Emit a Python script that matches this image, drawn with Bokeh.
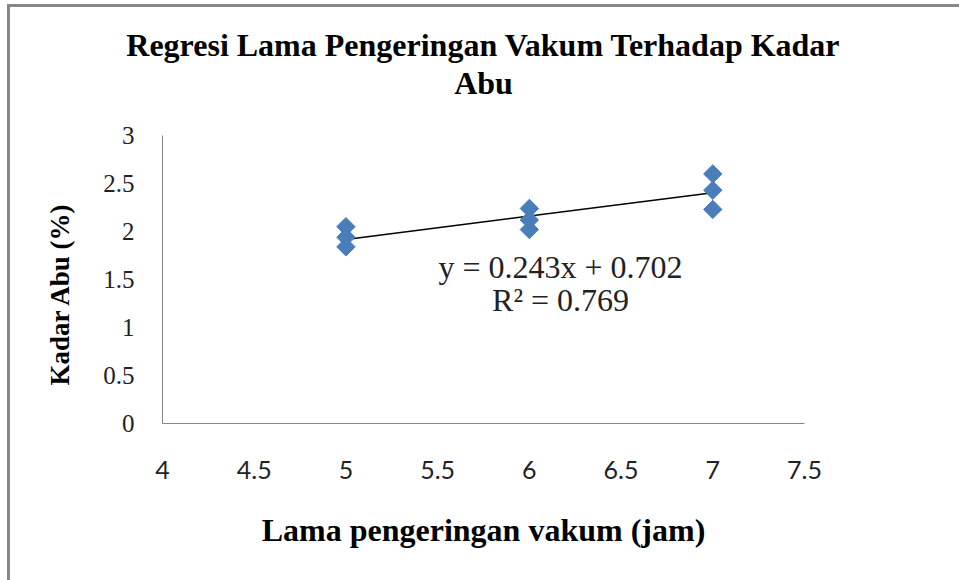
from bokeh.plotting import figure
from bokeh.models import Range1d, FixedTicker, Label, Title
from bokeh.embed import file_html
from bokeh.resources import INLINE

# Drying time (hours) and measured ash content (%) per replicate
hours = [5, 5, 5, 6, 6, 6, 7, 7, 7]
ash = [2.05, 1.94, 1.84, 2.24, 2.12, 2.02, 2.60, 2.43, 2.23]

# Linear trend reported for the data
slope = 0.243
intercept = 0.702
r_squared = 0.769

x_ticks = [4, 4.5, 5, 5.5, 6, 6.5, 7, 7.5]
x_tick_labels = ["4", "4.5", "5", "5.5", "6", "6.5", "7", "7.5"]
y_ticks = [0, 0.5, 1, 1.5, 2, 2.5, 3]
y_tick_labels = ["0", "0.5", "1", "1.5", "2", "2.5", "3"]

title_lines = ["Regresi Lama Pengeringan Vakum Terhadap Kadar", "Abu"]
x_title = "Lama pengeringan vakum (jam)"
y_title = "Kadar Abu (%)"

SERIF = "Liberation Serif"

p = figure(
    frame_width=642, frame_height=288,
    min_border_left=152, min_border_right=155,
    min_border_top=128, min_border_bottom=157,
    x_range=Range1d(4, 7.5), y_range=Range1d(0, 3),
    output_backend="svg", toolbar_location=None,
)
p.margin = (4, 0, 0, 7)
p.styles = {"border-top": "3px solid #878787", "border-left": "3px solid #878787"}
p.outline_line_color = None
p.background_fill_color = "white"
p.border_fill_color = "white"
p.grid.visible = False

# Chart title, one Title per line; a blank Title keeps a gap above the frame
title_style = dict(align="center", text_font=SERIF, text_font_style="bold",
                   text_font_size="32px", text_color="black")
p.title.visible = False
p.add_layout(Title(text=" ", standoff=32, text_font_size="1px"), "above")
p.add_layout(Title(text=title_lines[1], standoff=0, **title_style), "above")
p.add_layout(Title(text=title_lines[0], standoff=0, **title_style), "above")

# Axes
xa = p.xaxis[0]
xa.ticker = FixedTicker(ticks=x_ticks)
xa.major_label_overrides = {t: s for t, s in zip(x_ticks, x_tick_labels)}
xa.major_label_text_font = "Lato"
xa.major_label_text_font_size = "25px"
xa.major_label_text_color = "#222222"
xa.major_label_standoff = 37
xa.axis_label = x_title
xa.axis_label_text_font = SERIF
xa.axis_label_text_font_style = "bold"
xa.axis_label_text_font_size = "32px"
xa.axis_label_text_color = "black"
xa.axis_label_standoff = 30

ya = p.yaxis[0]
ya.ticker = FixedTicker(ticks=y_ticks)
ya.major_label_overrides = {t: s for t, s in zip(y_ticks, y_tick_labels)}
ya.major_label_text_font = SERIF
ya.major_label_text_font_size = "25px"
ya.major_label_text_color = "#222222"
ya.major_label_standoff = 28

# Vertical axis title, starting a little above the frame bottom
p.add_layout(Title(text=y_title, align="left", offset=38, standoff=51,
                   text_font=SERIF, text_font_style="bold", text_font_size="27px",
                   text_color="black"), "left")

for ax in (xa, ya):
    ax.axis_line_color = "#878787"
    ax.axis_line_width = 1
    ax.major_tick_in = 0
    ax.major_tick_out = 0
    ax.minor_tick_in = 0
    ax.minor_tick_out = 0

# Trend line across the observed range
x_fit = [min(hours), max(hours)]
y_fit = [slope * x + intercept for x in x_fit]
p.line(x_fit, y_fit, line_color="black", line_width=1.5)

# Observations as diamonds
p.scatter(hours, ash, marker="square", angle=0.785398, size=13,
          fill_color="#4a7ebb", line_color="#4a7ebb", line_width=1)

# Regression equation
eq_x = 6.17
p.add_layout(Label(x=eq_x, y=1.63, text=f"y = {slope}x + {intercept}",
                   text_font=SERIF, text_font_size="32px", text_color="#222222",
                   text_align="center", text_baseline="middle"))
p.add_layout(Label(x=eq_x, y=1.29, text=f"R² = {r_squared}",
                   text_font=SERIF, text_font_size="32px", text_color="#222222",
                   text_align="center", text_baseline="middle"))

open("out.html", "w").write(file_html(p, INLINE))
